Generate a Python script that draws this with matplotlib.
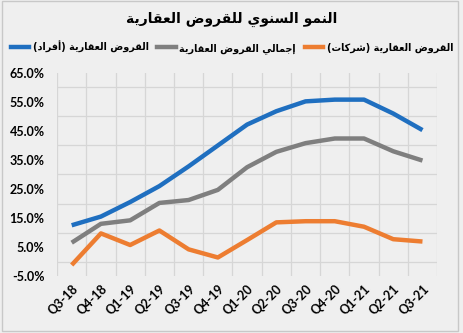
import matplotlib
matplotlib.use("Agg")
import matplotlib.pyplot as plt
from matplotlib.lines import Line2D
from matplotlib.patches import Rectangle
import numpy as np

# chart data (annual growth, %)
quarters = ["Q3-18", "Q4-18", "Q1-19", "Q2-19", "Q3-19", "Q4-19", "Q1-20",
            "Q2-20", "Q3-20", "Q4-20", "Q1-21", "Q2-21", "Q3-21"]
individuals = [12.5, 15.5, 20.5, 26.0, 32.8, 40.0, 47.2, 51.8, 55.2, 55.8, 55.8, 51.0, 45.3]
total = [6.5, 13.0, 14.2, 20.2, 21.2, 24.7, 32.5, 37.8, 40.8, 42.4, 42.4, 38.0, 34.8]
companies = [-1.2, 9.7, 5.7, 10.7, 4.2, 1.4, 7.4, 13.5, 13.9, 13.9, 12.0, 7.7, 6.9]

title = "النمو السنوي للقروض العقارية"
labels = ["القروض العقارية (أفراد)", "إجمالي القروض العقارية", "القروض العقارية (شركات)"]
colors = ["#1f6fc0", "#7f7f7f", "#ed7d31"]

# minimal arabic shaping: isolated form codepoint of each letter, plus number of forms
forms = {
    "ا": (0xFE8D, 2), "أ": (0xFE83, 2), "إ": (0xFE87, 2), "آ": (0xFE81, 2),
    "ب": (0xFE8F, 4), "ة": (0xFE93, 2), "ت": (0xFE95, 4), "ث": (0xFE99, 4),
    "ج": (0xFE9D, 4), "ح": (0xFEA1, 4), "خ": (0xFEA5, 4), "د": (0xFEA9, 2),
    "ذ": (0xFEAB, 2), "ر": (0xFEAD, 2), "ز": (0xFEAF, 2), "س": (0xFEB1, 4),
    "ش": (0xFEB5, 4), "ص": (0xFEB9, 4), "ض": (0xFEBD, 4), "ط": (0xFEC1, 4),
    "ظ": (0xFEC5, 4), "ع": (0xFEC9, 4), "غ": (0xFECD, 4), "ف": (0xFED1, 4),
    "ق": (0xFED5, 4), "ك": (0xFED9, 4), "ل": (0xFEDD, 4), "م": (0xFEE1, 4),
    "ن": (0xFEE5, 4), "ه": (0xFEE9, 4), "و": (0xFEED, 2), "ى": (0xFEEF, 2),
    "ي": (0xFEF1, 4),
}
lam_alef = {"ا": 0xFEFB, "أ": 0xFEF7, "إ": 0xFEF9, "آ": 0xFEF5}


def shape(text):
    out = []
    i = 0
    n = len(text)
    while i < n:
        ch = text[i]
        if ch not in forms:
            out.append(ch)
            i += 1
            continue
        prev = text[i - 1] if i > 0 else ""
        joins_prev = prev in forms and forms[prev][1] == 4
        if ch == "ل" and i + 1 < n and text[i + 1] in lam_alef:
            out.append(chr(lam_alef[text[i + 1]] + (1 if joins_prev else 0)))
            i += 2
            continue
        base, nf = forms[ch]
        nxt = text[i + 1] if i + 1 < n else ""
        joins_next = nf == 4 and nxt in forms
        if joins_prev and joins_next:
            c = base + 3
        elif joins_prev:
            c = base + 1
        elif joins_next:
            c = base + 2
        else:
            c = base
        out.append(chr(c))
        i += 1
    vis = "".join(reversed(out))
    return vis.translate(str.maketrans("()", ")("))


plt.rcParams["font.family"] = ["DejaVu Sans"]
bg = "#efefef"

fig = plt.figure(figsize=(4.64, 3.33), dpi=100, facecolor=bg)
ax = fig.add_axes([0.123, 0.171, 0.819, 0.61])
ax.set_facecolor(bg)

x = np.arange(len(quarters))
series = [individuals, total, companies]
for vals, col in zip(series, colors):
    ax.plot(x, vals, color=col, lw=3.2, solid_capstyle="butt", zorder=3)

ax.set_xlim(-0.5, len(quarters) - 0.5)
ax.set_ylim(-5, 65)
ax.set_yticks(np.arange(-5, 66, 10))
ax.set_yticks(np.arange(-5, 66, 5), minor=True)
ax.set_yticklabels([f"{v:.1f}%" for v in np.arange(-5, 66, 10)],
                   fontfamily="Lato", fontweight="bold", fontsize=9)
ax.set_xticks(x)
ax.set_xticks(np.arange(-0.5, len(quarters), 1), minor=True)
ax.set_xticklabels(quarters, rotation=45, ha="right", rotation_mode="anchor",
                   fontfamily="Lato", fontweight="bold", fontsize=9)
ax.tick_params(which="both", length=0)
ax.tick_params(axis="y", pad=9)
ax.tick_params(axis="x", pad=5)
ax.grid(which="minor", color="#d6d6d6", lw=0.9)
for s in ax.spines.values():
    s.set_visible(False)

fig.text(0.5, 0.942, shape(title), ha="center", va="center",
         fontsize=10, fontweight="bold")

handles = [Line2D([0], [0], color=c, lw=3.2) for c in colors]
fig.legend(handles, [shape(l) for l in labels], loc="center",
           bbox_to_anchor=(0.5, 0.858), ncol=3, frameon=False,
           handlelength=1.9, columnspacing=0.9, handletextpad=0.4,
           prop={"weight": "bold", "size": 6.9})

fig.patches.append(Rectangle((0.004, 0.006), 0.984, 0.99, transform=fig.transFigure,
                             fill=False, edgecolor="#c8c8c8", lw=1.0))

fig.savefig("out.png", dpi=100, facecolor=bg)
